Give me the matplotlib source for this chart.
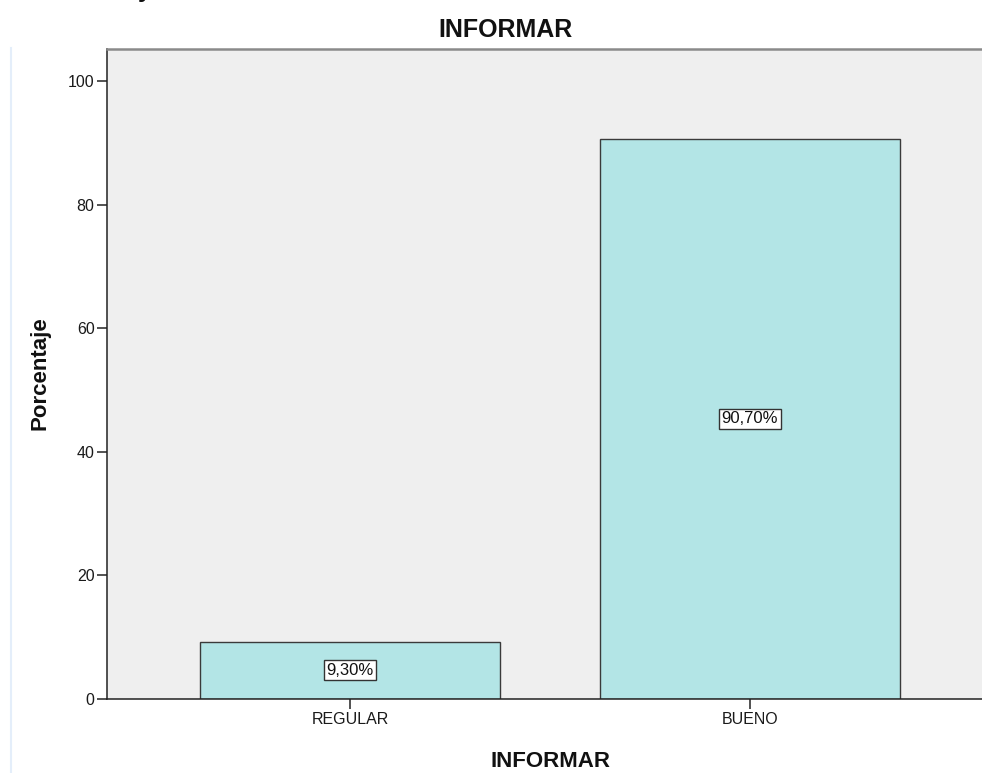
import matplotlib

matplotlib.use("Agg")
import matplotlib.pyplot as plt

plt.rcParams["font.family"] = ["Liberation Sans", "DejaVu Sans"]

categories = ["REGULAR", "BUENO"]
percent = [9.30, 90.70]
labels = ["9,30%", "90,70%"]
yticks = [0, 20, 40, 60, 80, 100]

W, H = 982, 773
fig = plt.figure(figsize=(W / 100, H / 100), dpi=100)
ax = fig.add_axes([107 / W, 1 - 699 / H, 1 - 107 / W, (699 - 49) / H])
ax.set_facecolor("#efefef")

x = list(range(len(categories)))
bars = ax.bar(x, percent, width=0.75, color="#b3e5e6", edgecolor="#3a3a3a", linewidth=1.0, zorder=2)
for rect, txt in zip(bars, labels):
    ax.text(rect.get_x() + rect.get_width() / 2, rect.get_height() / 2, txt,
            ha="center", va="center", fontsize=12, color="#111111", zorder=3,
            bbox=dict(boxstyle="square,pad=0.15", fc="white", ec="#333333", lw=1.0))

ax.set_xlim(-0.6075, 1.58)
ax.set_ylim(0, 105.2)
ax.set_xticks(x)
ax.set_xticklabels(categories, fontsize=11.5, color="#1a1a1a")
ax.set_yticks(yticks)
ax.set_yticklabels([str(v) for v in yticks], fontsize=11.5, color="#1a1a1a")
ax.tick_params(axis="both", direction="out", length=7.5, width=1.1, color="#222222", pad=1.5)

ax.spines["right"].set_visible(False)
ax.spines["top"].set_color("#8a8a8a")
ax.spines["top"].set_linewidth(1.8)
ax.spines["left"].set_color("#222222")
ax.spines["bottom"].set_color("#222222")
ax.spines["left"].set_linewidth(1.1)
ax.spines["bottom"].set_linewidth(1.1)

# titles placed in figure pixels
fig.text(505 / W, 1 - 37 / H, "INFORMAR", ha="center", va="baseline",
         fontsize=18, fontweight="bold", color="#111111")
fig.text(551 / W, 1 - 767 / H, "INFORMAR", ha="center", va="baseline",
         fontsize=16, fontweight="bold", color="#111111")
fig.text(40 / W, 1 - 373 / H, "Porcentaje", ha="center", va="center", rotation=90,
         fontsize=16, fontweight="bold", color="#111111")

# tail of the caption line above the chart
fig.text(138 / W, 1 + 3 / H, "y", ha="left", va="baseline",
         fontsize=18, fontweight="bold", color="#111111")

# thin border of the surrounding output pane
fig.add_artist(plt.Line2D([11 / W, 11 / W], [0, 1 - 48 / H], color="#e4eefa", lw=1.5))

fig.savefig("out.png", dpi=100)
